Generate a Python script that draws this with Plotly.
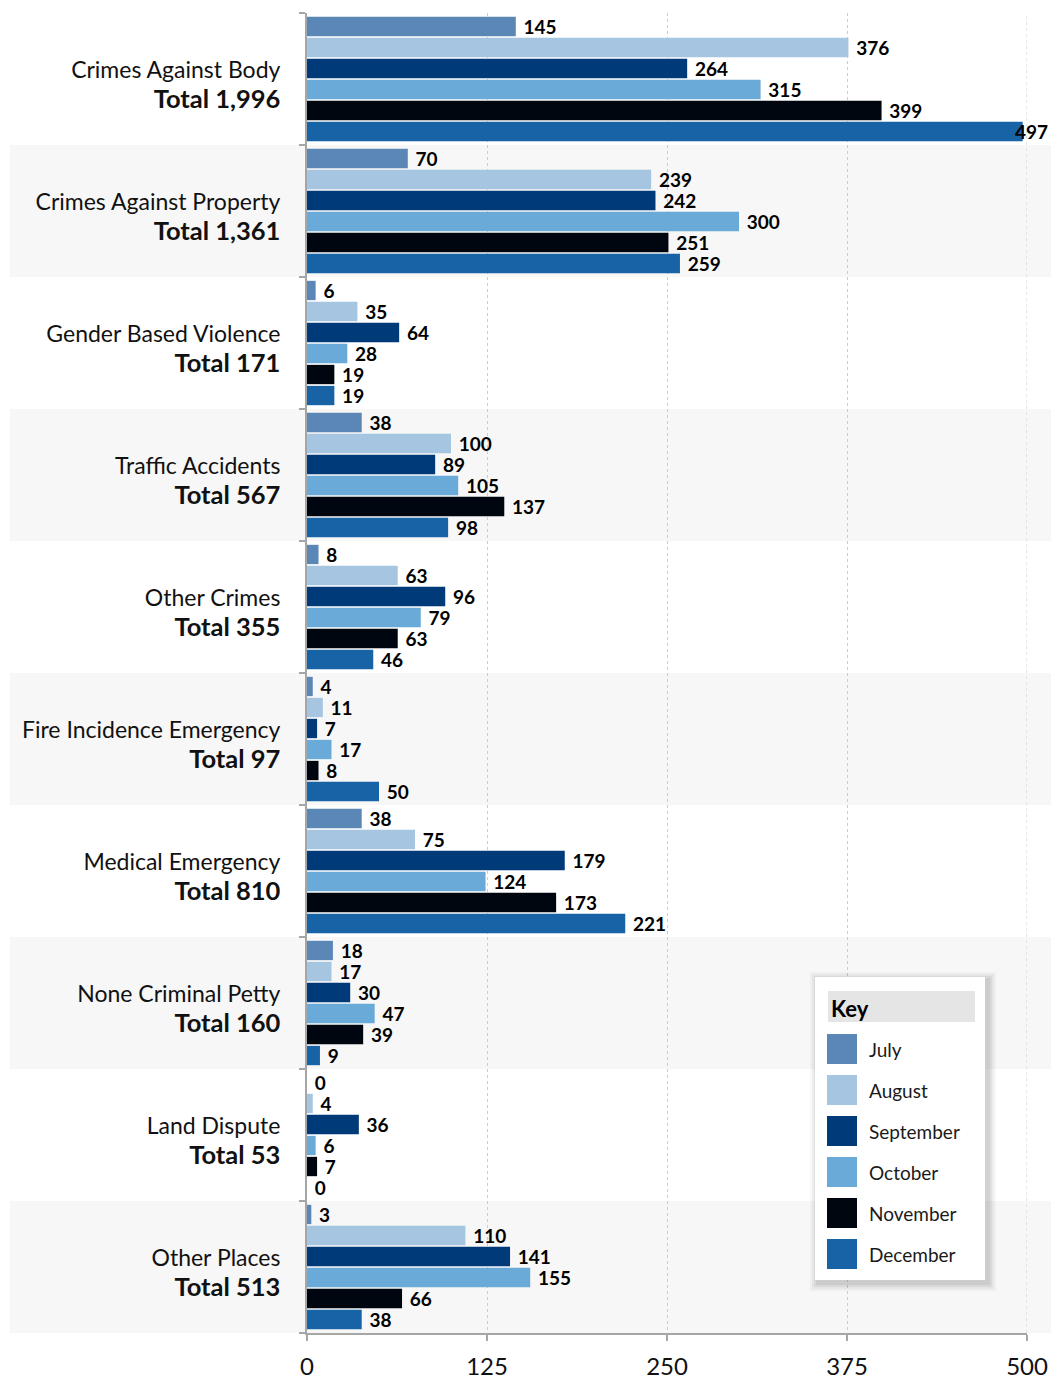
import plotly.graph_objects as go

categories = ["Crimes Against Body", "Crimes Against Property", "Gender Based Violence",
              "Traffic Accidents", "Other Crimes", "Fire Incidence Emergency",
              "Medical Emergency", "None Criminal Petty", "Land Dispute", "Other Places"]
months = ["July", "August", "September", "October", "November", "December"]
july = [145, 70, 6, 38, 8, 4, 38, 18, 0, 3]
august = [376, 239, 35, 100, 63, 11, 75, 17, 4, 110]
september = [264, 242, 64, 89, 96, 7, 179, 30, 36, 141]
october = [315, 300, 28, 105, 79, 17, 124, 47, 6, 155]
november = [399, 251, 19, 137, 63, 8, 173, 39, 7, 66]
december = [497, 259, 19, 98, 46, 50, 221, 9, 0, 38]
series = [july, august, september, october, november, december]
colors = ["#5b87b7", "#a5c5e0", "#003a78", "#6aaad9", "#00060f", "#1863a5"]
x_ticks = [0, 125, 250, 375, 500]

FONT = "Lato"
W, H = 1051, 1380
L, R, T, B = 307, 24, 13, 47
PW, PH = W - L - R, H - T - B
X_MAX = 500
BARGAP = 0.045
LABEL_SIZE = 19

def px_x(px):
    return (px - L) / PW

def px_y(py):
    return (H - B - py) / PH

totals = [sum(s[i] for s in series) for i in range(len(categories))]
ticktext = [f"{c}<br><b><span style='font-size:25.5px'>Total {t:,}</span></b>"
            for c, t in zip(categories, totals)]

# labels that would run past the page edge get drawn as right-aligned annotations
def overflows(v):
    return L + v * PW / X_MAX + 8 + 3 * 0.6 * LABEL_SIZE > W

fig = go.Figure()
annotations = []
n = len(series)
slot = (1 - BARGAP) / n
for k, (name, vals, col) in enumerate(zip(months, series, colors)):
    texts = []
    for i, v in enumerate(vals):
        if overflows(v):
            texts.append("")
            annotations.append(dict(xref="paper", yref="y", x=px_x(W - 1),
                                    y=i - (1 - BARGAP) / 2 + (k + 0.5) * slot,
                                    text=f"<b>{v}</b>", showarrow=False,
                                    xanchor="right", yanchor="middle",
                                    font=dict(family=FONT, size=LABEL_SIZE, color="#000000")))
        else:
            texts.append(f"\u2005{v}")
    fig.add_trace(go.Bar(
        y=categories, x=vals, orientation="h", name=name,
        marker=dict(color=col, line=dict(width=0)),
        text=texts, textposition="outside", constraintext="none",
        textfont=dict(family=FONT, size=LABEL_SIZE, color="#000000", weight="bold"),
        cliponaxis=False, showlegend=False,
    ))

shapes = []
for i in range(len(categories)):
    if i % 2 == 1:
        shapes.append(dict(type="rect", xref="paper", yref="y",
                           x0=px_x(10), x1=px_x(W), y0=i - 0.5, y1=i + 0.5,
                           fillcolor="#f7f7f7", line=dict(width=0), layer="below"))
shapes.append(dict(type="line", xref="x", yref="paper", x0=x_ticks[-1], x1=x_ticks[-1],
                   y0=0, y1=1, line=dict(color="#cccccc", width=1, dash="dot"), layer="below"))

# legend box
bx0, bx1, by0, by1 = 815, 985, 977, 1280
for k, op in enumerate([0.03, 0.04, 0.05, 0.06]):
    d = 8 - 2 * k
    shapes.append(dict(type="rect", xref="paper", yref="paper",
                       x0=px_x(bx0 - d + 3), x1=px_x(bx1 + d + 3),
                       y0=px_y(by1 + d + 3), y1=px_y(by0 - d + 3),
                       fillcolor=f"rgba(0,0,0,{op})", line=dict(width=0), layer="above"))
shapes.append(dict(type="rect", xref="paper", yref="paper",
                   x0=px_x(bx0), x1=px_x(bx1), y0=px_y(by1), y1=px_y(by0),
                   fillcolor="#ffffff", line=dict(width=0), layer="above"))
shapes.append(dict(type="rect", xref="paper", yref="paper",
                   x0=px_x(828), x1=px_x(975), y0=px_y(1022), y1=px_y(991),
                   fillcolor="#e5e5e5", line=dict(width=0), layer="above"))
annotations.append(dict(xref="paper", yref="paper", x=px_x(829), y=px_y(1008),
                        text="<b>Key</b>", showarrow=False, xanchor="left", yanchor="middle",
                        font=dict(family=FONT, size=22, color="#000000")))
for k, (name, col) in enumerate(zip(months, colors)):
    cy = 1049 + 41 * k
    shapes.append(dict(type="rect", xref="paper", yref="paper",
                       x0=px_x(827), x1=px_x(857), y0=px_y(cy + 15), y1=px_y(cy - 15),
                       fillcolor=col, line=dict(width=0), layer="above"))
    annotations.append(dict(xref="paper", yref="paper", x=px_x(867), y=px_y(cy),
                            text=name, showarrow=False, xanchor="left", yanchor="middle",
                            font=dict(family=FONT, size=19, color="#1a1a1a")))

fig.update_layout(
    width=W, height=H,
    margin=dict(l=L, r=R, t=T, b=B, autoexpand=False),
    paper_bgcolor="white", plot_bgcolor="rgba(0,0,0,0)",
    barmode="group", bargap=BARGAP, bargroupgap=0.08,
    shapes=shapes, annotations=annotations,
    xaxis=dict(range=[0, X_MAX], tickvals=x_ticks, ticktext=[str(v) for v in x_ticks],
               showgrid=True, gridcolor="#cccccc", griddash="dot", gridwidth=1,
               showline=True, linecolor="#a6a6a6", linewidth=2,
               ticks="outside", ticklen=6, tickcolor="#a6a6a6", tickwidth=2,
               tickfont=dict(family=FONT, size=24, color="#111111"),
               ticklabelstandoff=5, zeroline=False, fixedrange=True),
    yaxis=dict(categoryorder="array", categoryarray=categories, autorange="reversed",
               tickvals=categories, ticktext=ticktext, tickson="boundaries",
               showline=True, linecolor="#a6a6a6", linewidth=2,
               ticks="outside", ticklen=6, tickcolor="#a6a6a6", tickwidth=2,
               tickfont=dict(family=FONT, size=23, color="#111111"),
               ticklabelstandoff=20, ticklabelshift=-6,
               showgrid=False, zeroline=False, fixedrange=True),
    font=dict(family=FONT),
)

fig.write_html("out.html")
